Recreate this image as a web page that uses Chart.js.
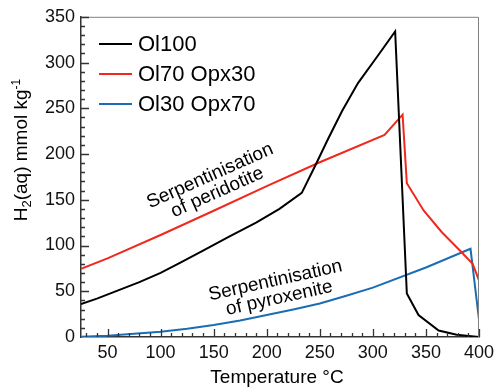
<!DOCTYPE html>
<html>
<head>
<meta charset="utf-8">
<script src="https://cdn.jsdelivr.net/npm/chart.js@4.4.1/dist/chart.umd.min.js"></script>
<style>
  html, body { margin: 0; padding: 0; background: #fff; }
  #wrap { width: 501px; height: 389px; }
</style>
</head>
<body>
<div id="wrap"><canvas id="h2Chart"></canvas></div>
<script>
// H2(aq) produced during serpentinisation vs temperature

const ol100Temp = [25, 40, 60, 80, 100, 120, 140, 165, 190, 212, 233, 246, 258, 271, 286, 305, 321, 332, 343, 362, 379, 400];
const ol100H2   = [36, 42, 51, 60, 70, 82, 94.5, 110, 125, 140, 157.5, 188, 217, 247, 277.5, 308, 334, 47.5, 24, 7, 2.5, 0];

const ol70Temp = [25, 50, 100, 150, 200, 250, 311, 328, 332, 348, 365, 382, 394, 400, 400];
const ol70H2   = [74.5, 86, 111.5, 138, 165, 191, 221, 243, 168, 138, 114.5, 94.5, 80, 62, 18];

const ol30Temp = [25, 50, 75, 100, 125, 150, 175, 200, 225, 250, 275, 300, 350, 392, 400];
const ol30H2   = [0.3, 1.5, 3.5, 5.8, 9, 13, 18, 24, 30, 36.6, 45, 54, 76, 96.4, 19];

const seriesLabels = ['Ol100', 'Ol70 Opx30', 'Ol30 Opx70'];
const xTickValues = [50, 100, 150, 200, 250, 300, 350, 400];
const yTickValues = [0, 50, 100, 150, 200, 250, 300, 350];

const notes = [
  { lines: ['Serpentinisation', 'of peridotite'], t: 150, h2: 167 },
  { lines: ['Serpentinisation', 'of pyroxenite'], t: 210, h2: 52 }
];

const FONT = '"Liberation Sans", Arial, sans-serif';

function pairs(xs, ys) {
  return xs.map((v, i) => ({ x: v, y: ys[i] }));
}

const decorations = {
  id: 'decorations',
  afterDraw(chart) {
    const { ctx, chartArea: a } = chart;
    const x = chart.scales.x, y = chart.scales.y;
    ctx.save();

    // top and right frame
    ctx.strokeStyle = '#808080';
    ctx.lineWidth = 1;
    ctx.beginPath();
    ctx.moveTo(a.left, a.top + 0.5);
    ctx.lineTo(a.right - 0.5, a.top + 0.5);
    ctx.lineTo(a.right - 0.5, a.bottom);
    ctx.stroke();

    // inward ticks, minor every 10
    ctx.strokeStyle = '#333';
    ctx.lineWidth = 1.3;
    ctx.beginPath();
    for (let v = 30; v <= 400; v += 10) {
      const px = Math.round(x.getPixelForValue(v)) + 0.5;
      const len = v % 50 === 0 ? 8 : 4;
      ctx.moveTo(px, a.bottom);
      ctx.lineTo(px, a.bottom - len);
    }
    for (let v = 10; v <= 350; v += 10) {
      const py = Math.round(y.getPixelForValue(v)) + 0.5;
      const len = v % 50 === 0 ? 8 : 4;
      ctx.moveTo(a.left, py);
      ctx.lineTo(a.left + len, py);
    }
    ctx.stroke();

    // legend
    ctx.font = '22px ' + FONT;
    ctx.textBaseline = 'middle';
    ctx.textAlign = 'left';
    chart.data.datasets.forEach((ds, i) => {
      const ly = 44 + i * 30;
      ctx.strokeStyle = ds.borderColor;
      ctx.lineWidth = 2;
      ctx.beginPath();
      ctx.moveTo(99, ly);
      ctx.lineTo(132, ly);
      ctx.stroke();
      ctx.fillStyle = '#000';
      ctx.fillText(ds.label, 138, ly + 1);
    });

    // annotations
    ctx.font = '19px ' + FONT;
    ctx.textAlign = 'center';
    const angles = [-24, -12.5];
    notes.forEach((n, i) => {
      ctx.save();
      ctx.translate(x.getPixelForValue(n.t), y.getPixelForValue(n.h2));
      ctx.rotate(angles[i] * Math.PI / 180);
      ctx.fillText(n.lines[0], 0, -9);
      ctx.fillText(n.lines[1], 0, 9);
      ctx.restore();
    });

    // x title
    ctx.font = '19px ' + FONT;
    ctx.fillText('Temperature °C', 277, 378);

    // y title with sub/superscript
    ctx.save();
    ctx.translate(20, 150);
    ctx.rotate(-Math.PI / 2);
    ctx.textAlign = 'left';
    ctx.textBaseline = 'alphabetic';
    const runs = [
      { t: 'H', size: 19, dy: 0 },
      { t: '2', size: 13, dy: 4 },
      { t: '(aq) mmol kg', size: 19, dy: 0 },
      { t: '-1', size: 12, dy: -7 }
    ];
    let total = 0;
    runs.forEach(r => { ctx.font = r.size + 'px ' + FONT; r.w = ctx.measureText(r.t).width; total += r.w; });
    let cx = -total / 2;
    runs.forEach(r => {
      ctx.font = r.size + 'px ' + FONT;
      ctx.fillText(r.t, cx, 7 + r.dy);
      cx += r.w;
    });
    ctx.restore();

    ctx.restore();
  }
};

const ctx = document.getElementById('h2Chart').getContext('2d');
new Chart(ctx, {
  type: 'line',
  data: {
    datasets: [
      { label: seriesLabels[0], data: pairs(ol100Temp, ol100H2), borderColor: '#000000' },
      { label: seriesLabels[1], data: pairs(ol70Temp, ol70H2), borderColor: '#f0281e' },
      { label: seriesLabels[2], data: pairs(ol30Temp, ol30H2), borderColor: '#1a6db5' }
    ].map(d => Object.assign(d, { borderWidth: 2, pointRadius: 0, tension: 0, fill: false }))
  },
  options: {
    responsive: true,
    maintainAspectRatio: false,
    animation: false,
    layout: { padding: { top: 15, right: 22, left: 0, bottom: 0 } },
    plugins: {
      legend: { display: false },
      tooltip: { enabled: false }
    },
    scales: {
      x: {
        type: 'linear',
        min: 25,
        max: 400,
        grid: { display: false, drawTicks: false },
        border: { display: true, color: '#333', width: 1.5 },
        ticks: { color: '#111', font: { size: 18, family: FONT }, padding: 5, maxRotation: 0, autoSkip: false },
        afterBuildTicks: s => { s.ticks = xTickValues.map(v => ({ value: v })); },
        afterFit: s => { s.height = 52; }
      },
      y: {
        type: 'linear',
        min: 0,
        max: 350,
        grid: { display: false, drawTicks: false },
        border: { display: true, color: '#333', width: 1.5 },
        ticks: { color: '#111', font: { size: 18, family: FONT }, padding: 6, autoSkip: false },
        afterBuildTicks: s => { s.ticks = yTickValues.map(v => ({ value: v })); },
        afterFit: s => { s.width = 81; }
      }
    }
  },
  plugins: [decorations]
});
</script>
</body>
</html>
